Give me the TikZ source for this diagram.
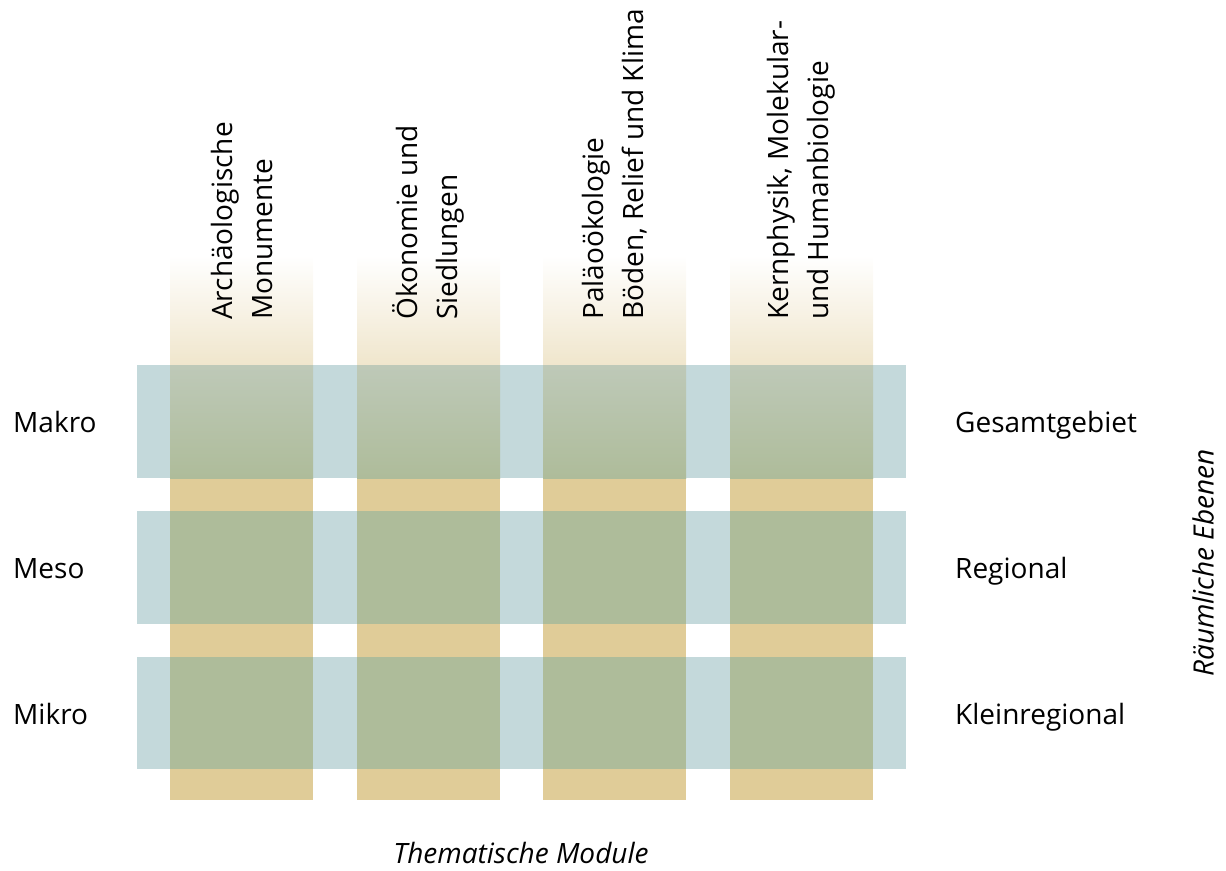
\documentclass[tikz,border=0pt]{standalone}
\usepackage{fontspec}
\setmainfont{Open Sans}
\definecolor{tan}{RGB}{224,204,152}
\definecolor{bluegrey}{RGB}{196,217,219}
\definecolor{olive}{RGB}{174,188,154}
\definecolor{oliveTop}{RGB}{190,201,184}
\tikzset{
  column/.style={fill=tan,draw=none},
  fade/.style={top color=white,bottom color=tan,draw=none},
  level/.style={fill=bluegrey,draw=none},
  cross/.style={fill=olive,draw=none},
  crossfade/.style={top color=oliveTop,bottom color=olive,draw=none},
  txt/.style={font=\fontsize{28}{40}\selectfont,inner sep=0pt},
  rowtxt/.style={txt,anchor=base west},
  modtxt/.style={txt,rotate=90,anchor=west,align=left}
}
\begin{document}
\begin{tikzpicture}[x=1pt,y=-1pt]
\useasboundingbox (0,0) rectangle (1226,870);
% columns (thematische Module)
\draw [column] (170,478) rectangle (313,800);
\draw [column] (357,478) rectangle (500,800);
\draw [column] (543,478) rectangle (686,800);
\draw [column] (730,478) rectangle (873,800);
\draw [fade] (170,255) rectangle (313,478);
\draw [fade] (357,255) rectangle (500,478);
\draw [fade] (543,255) rectangle (686,478);
\draw [fade] (730,255) rectangle (873,478);
% rows (raeumliche Ebenen)
\draw [level] (137,365) rectangle (906,478);
\draw [level] (137,511) rectangle (906,624);
\draw [level] (137,657) rectangle (906,769);
% overlaps
\foreach \x in {170,357,543,730} {
  \draw [crossfade] (\x,365) rectangle ++(143,113);
  \draw [cross] (\x,511) rectangle ++(143,113);
  \draw [cross] (\x,657) rectangle ++(143,112);
}
% column labels
\node [modtxt] (arch) at (241.5,320) {Archäologische\\Monumente};
\node [modtxt] (oeko) at (428.5,320) {Ökonomie und\\Siedlungen};
\node [modtxt] (palae) at (614.5,320) {Paläoökologie\\Böden, Relief und Klima};
\node [modtxt] (kern) at (801.5,320) {Kernphysik, Molekular-\\und Humanbiologie};
% row labels
\node [rowtxt] (makro) at (13,432) {Makro};
\node [rowtxt] (meso) at (13,578) {Meso};
\node [rowtxt] (mikro) at (13,724) {Mikro};
\node [rowtxt] (gesamt) at (955,432) {Gesamtgebiet};
\node [rowtxt] (regional) at (955,578) {Regional};
\node [rowtxt] (klein) at (955,724) {Kleinregional};
% axis titles
\node [txt,font=\fontsize{28}{40}\selectfont\itshape,rotate=90] (ebenen) at (1203,563) {Räumliche Ebenen};
\node [txt,font=\fontsize{28}{40}\selectfont\itshape] (module) at (521,853) {Thematische Module};
\end{tikzpicture}
\end{document}
